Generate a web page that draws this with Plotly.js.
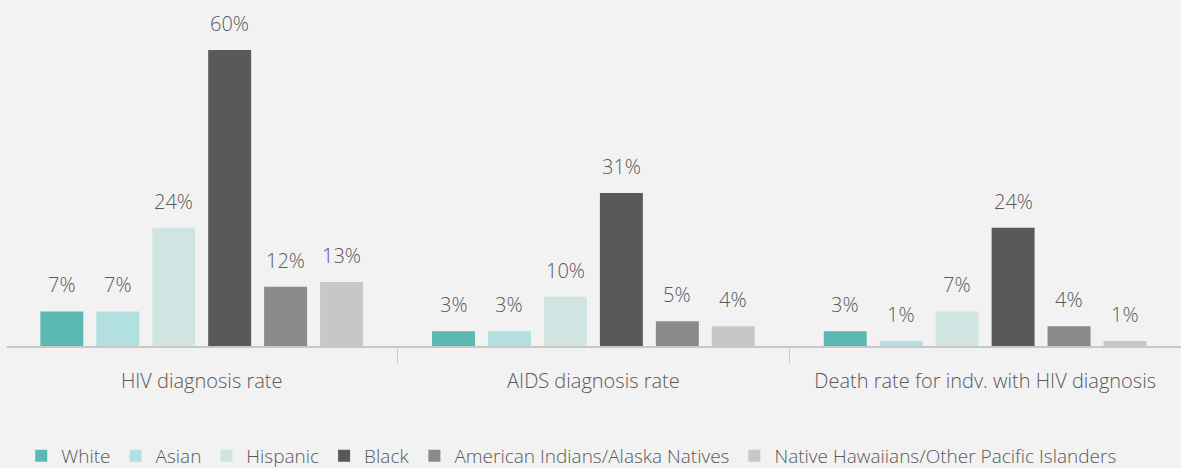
<!DOCTYPE html>
<html>
<head>
<meta charset="utf-8">
<script src="https://cdn.plot.ly/plotly-3.0.1.min.js"></script>
<style>
html,body{margin:0;padding:0;background:#f2f2f2;}
#chart{width:1181px;height:468px;}
</style>
</head>
<body>
<div id="chart"></div>
<script>
const categories = ["HIV diagnosis rate", "AIDS diagnosis rate", "Death rate for indv. with HIV diagnosis"];
const seriesNames = ["White", "Asian", "Hispanic", "Black", "American Indians/Alaska Natives", "Native Hawaiians/Other Pacific Islanders"];
const white = [7, 3, 3];
const asian = [7, 3, 1];
const hispanic = [24, 10, 7];
const black = [60, 31, 24];
const amIndian = [12, 5, 4];
const nhpi = [13, 4, 1];
const seriesValues = [white, asian, hispanic, black, amIndian, nhpi];
const colors = ["#5bb8b2", "#b2e0e0", "#d0e5e2", "#58595b", "#898a8c", "#c6c7c9"];

const FONT = "'Open Sans', Lato, sans-serif";
const TXT = "#595959";
const bargap = 0.143;
const groupgap = 0.232;

const traces = seriesValues.map((vals, i) => ({
  type: "bar",
  name: seriesNames[i],
  x: categories,
  y: vals,
  marker: {color: colors[i]},
  hoverinfo: "skip"
}));

const nS = seriesValues.length;
const slot = (1 - bargap) / nS;
const annotations = [];
seriesValues.forEach((vals, i) => {
  vals.forEach((v, c) => {
    annotations.push({
      x: c + (i - (nS - 1) / 2) * slot,
      y: v,
      xref: "x", yref: "y",
      text: v + "%",
      showarrow: false,
      yanchor: "bottom",
      yshift: 11,
      font: {family: FONT, size: 20, color: TXT, weight: 300}
    });
  });
});

const layout = {
  width: 1181, height: 468,
  margin: {l: 7, r: 0, t: 20, b: 122},
  paper_bgcolor: "#f2f2f2",
  plot_bgcolor: "#f2f2f2",
  barmode: "group",
  bargap: bargap,
  bargroupgap: groupgap,
  font: {family: FONT, size: 20, color: TXT, weight: 300},
  xaxis: {
    type: "category",
    range: [-0.497, 2.5],
    automargin: false,
    showline: true, linecolor: "#c8c8c8", linewidth: 2,
    ticks: "outside", tickson: "boundaries", ticklen: 16, tickcolor: "#c8c8c8", tickwidth: 1,
    ticklabelstandoff: 16,
    tickfont: {family: FONT, size: 20, color: TXT, weight: 300},
    showgrid: false, zeroline: false, fixedrange: true
  },
  yaxis: {
    range: [0, 66.1],
    visible: false, showgrid: false, zeroline: false, fixedrange: true
  },
  showlegend: true,
  legend: {
    orientation: "h",
    xref: "container", yref: "container",
    x: 0.018, xanchor: "left",
    y: 0.026, yanchor: "middle",
    font: {family: FONT, size: 19, color: TXT, weight: 300},
    itemwidth: 30,
    tracegroupgap: 0,
    bgcolor: "rgba(0,0,0,0)"
  },
  annotations: annotations
};

Plotly.newPlot("chart", traces, layout, {displayModeBar: false, staticPlot: true});
</script>
</body>
</html>
